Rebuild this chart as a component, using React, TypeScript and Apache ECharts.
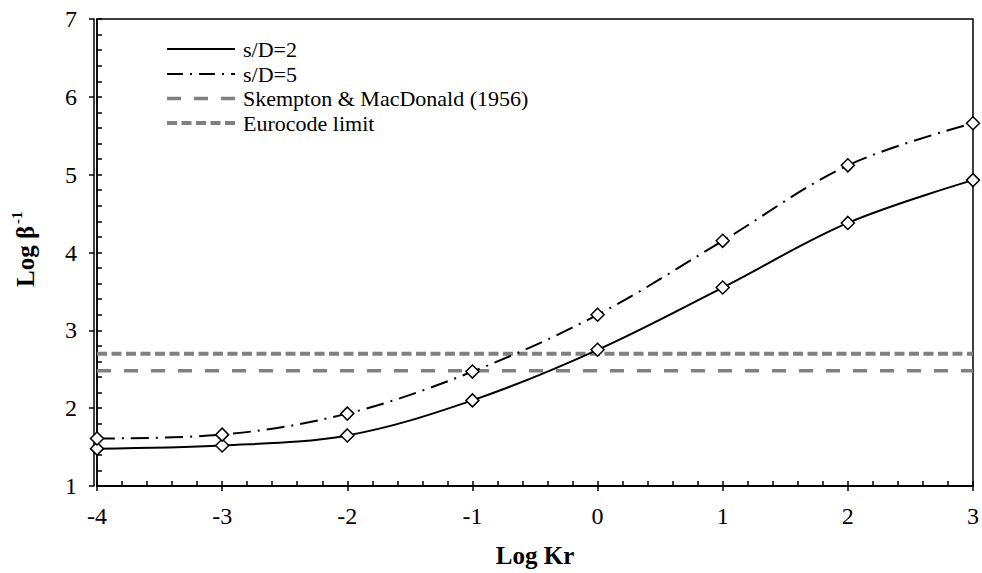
import React, { useEffect, useRef } from "react";
import * as echarts from "echarts";

const logKr = [-4, -3, -2, -1, 0, 1, 2, 3];
const sD2 = [1.48, 1.52, 1.65, 2.1, 2.75, 3.55, 4.38, 4.93];
const sD5 = [1.61, 1.66, 1.93, 2.47, 3.2, 4.15, 5.12, 5.66];
const skemptonY = 2.48;
const eurocodeY = 2.7;
const xRange = [-4, 3];
const yRange = [1, 7];
const legendNames = ["s/D=2", "s/D=5", "Skempton & MacDonald (1956)", "Eurocode limit"];

const FONT = "Liberation Serif";
const GRAY = "#808080";
const GRID = { left: 97, right: 6, top: 19, bottom: 87 };
const W = 982;
const H = 573;

export default function App() {
  const ref = useRef<HTMLDivElement>(null);
  useEffect(() => {
    if (!ref.current) return;
    const chart = echarts.init(ref.current, null, { renderer: "svg" });
    const gridW = W - GRID.left - GRID.right;
    const gridH = H - GRID.top - GRID.bottom;
    const tickLine = { color: "#000", width: 1.5 };
    const xBase = {
      type: "value" as const,
      min: xRange[0],
      max: xRange[1],
      interval: 1,
      splitLine: { show: false },
      axisLine: { show: true, onZero: false, lineStyle: { color: "#000", width: 1.5 } },
    };
    const yBase = {
      type: "value" as const,
      min: yRange[0],
      max: yRange[1],
      interval: 1,
      splitLine: { show: false },
      axisLine: { show: true, onZero: false, lineStyle: { color: "#000", width: 1.5 } },
    };
    const legendX0 = 167;
    const legendX1 = 235;
    const legendY = [49, 74, 98.5, 123];
    const legendStyles: any[] = [
      { stroke: "#000", lineWidth: 2 },
      { stroke: "#000", lineWidth: 2, lineDash: [16, 7, 2, 7] },
      { stroke: GRAY, lineWidth: 3.5, lineDash: [14, 13] },
      { stroke: GRAY, lineWidth: 4, lineDash: [10, 4.5] },
    ];
    const legendGraphics: any[] = [];
    legendNames.forEach((name, i) => {
      legendGraphics.push({
        type: "line",
        shape: { x1: legendX0, y1: legendY[i], x2: legendX1, y2: legendY[i] },
        style: legendStyles[i],
        silent: true,
      });
      legendGraphics.push({
        type: "text",
        x: 243,
        y: legendY[i],
        style: {
          text: name,
          fontFamily: FONT,
          fontSize: 22,
          fill: "#000",
          verticalAlign: "middle",
        },
      });
    });
    chart.setOption({
      animation: false,
      backgroundColor: "#fff",
      grid: {
        ...GRID,
        show: true,
        borderColor: "#000",
        borderWidth: 1.5,
      },
      xAxis: [
        {
          ...xBase,
          position: "bottom",
          axisTick: { show: true, inside: true, length: 5, lineStyle: tickLine },
          minorTick: { show: true, splitNumber: 5, length: 5, lineStyle: tickLine },
          axisLabel: {
            show: true,
            margin: 18,
            color: "#000",
            fontFamily: FONT,
            fontSize: 24,
          },
          name: "Log Kr",
          nameLocation: "middle",
          nameGap: 57,
          nameTextStyle: { fontFamily: FONT, fontSize: 25, fontWeight: "bold", color: "#000" },
        },
        {
          ...xBase,
          position: "top",
          offset: -gridH,
          axisTick: { show: true, inside: true, length: 5, lineStyle: tickLine },
          axisLabel: { show: false },
        },
      ],
      yAxis: [
        {
          ...yBase,
          position: "left",
          axisTick: { show: true, inside: true, length: 5, lineStyle: tickLine },
          minorTick: { show: true, splitNumber: 5, length: 5, lineStyle: tickLine },
          axisLabel: {
            show: true,
            margin: 20,
            color: "#000",
            fontFamily: FONT,
            fontSize: 24,
          },
        },
        {
          ...yBase,
          position: "right",
          offset: -gridW,
          axisTick: { show: true, inside: true, length: 5, lineStyle: tickLine },
          axisLabel: { show: false },
        },
      ],
      series: [
        {
          name: legendNames[0],
          type: "line",
          xAxisIndex: 0,
          yAxisIndex: 0,
          data: logKr.map((x, i) => [x, sD2[i]]),
          smooth: 0.35,
          symbol: "diamond",
          symbolSize: 13,
          showAllSymbol: true,
          lineStyle: { color: "#000", width: 2 },
          itemStyle: { color: "#fff", borderColor: "#000", borderWidth: 1.5 },
          z: 5,
        },
        {
          name: legendNames[1],
          type: "line",
          xAxisIndex: 0,
          yAxisIndex: 0,
          data: logKr.map((x, i) => [x, sD5[i]]),
          smooth: 0.35,
          symbol: "diamond",
          symbolSize: 13,
          showAllSymbol: true,
          lineStyle: { color: "#000", width: 2, type: [18, 7, 2, 7] },
          itemStyle: { color: "#fff", borderColor: "#000", borderWidth: 1.5 },
          z: 5,
        },
        {
          name: legendNames[2],
          type: "line",
          xAxisIndex: 0,
          yAxisIndex: 0,
          data: [
            [xRange[0], skemptonY],
            [xRange[1], skemptonY],
          ],
          symbol: "none",
          lineStyle: { color: GRAY, width: 3.5, type: [14, 13] },
          z: 3,
        },
        {
          name: legendNames[3],
          type: "line",
          xAxisIndex: 0,
          yAxisIndex: 0,
          data: [
            [xRange[0], eurocodeY],
            [xRange[1], eurocodeY],
          ],
          symbol: "none",
          lineStyle: { color: GRAY, width: 4, type: [10, 4.5] },
          z: 3,
        },
      ],
      graphic: [
        ...legendGraphics,
        {
          type: "group",
          x: 25,
          y: 287,
          rotation: Math.PI / 2,
          children: [
            {
              type: "text",
              x: 0,
              y: 0,
              style: {
                text: "Log β",
                fontFamily: FONT,
                fontSize: 25,
                fontWeight: "bold",
                fill: "#000",
                verticalAlign: "middle",
                align: "left",
              },
            },
            {
              type: "text",
              x: 63,
              y: -8,
              style: {
                text: "-1",
                fontFamily: FONT,
                fontSize: 15,
                fontWeight: "bold",
                fill: "#000",
                verticalAlign: "middle",
                align: "left",
              },
            },
          ],
        },
      ],
    });
    return () => chart.dispose();
  }, []);
  return <div ref={ref} style={{ width: W, height: H, position: "absolute", left: 0, top: 0 }} />;
}
